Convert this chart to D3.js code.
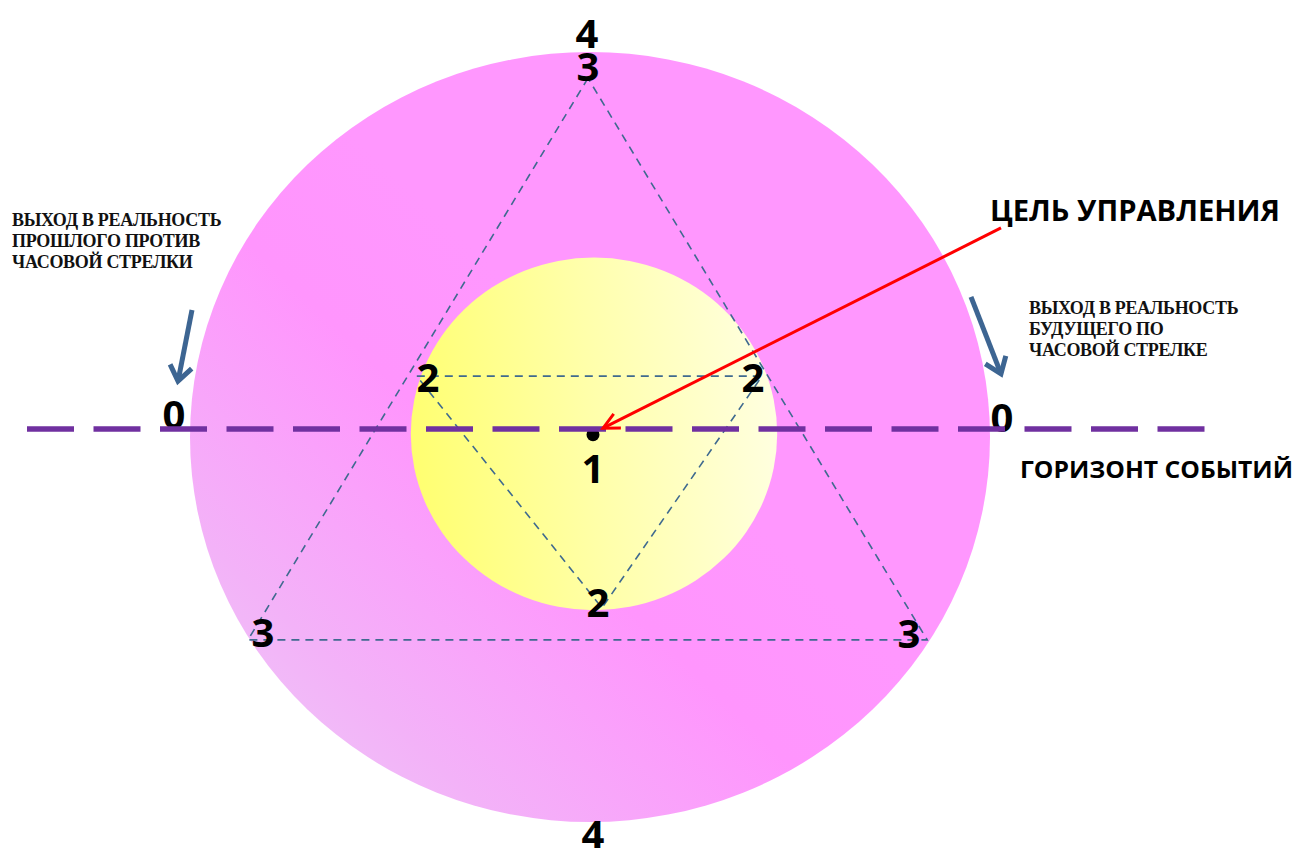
<!DOCTYPE html>
<html lang="ru">
<head>
<meta charset="UTF-8">
<title>Горизонт событий</title>
<style>
  html, body { margin: 0; padding: 0; background: #ffffff; }
  #canvas { width: 1297px; height: 848px; overflow: hidden; }
  .digit { font-family: "Open Sans", "Noto Sans", sans-serif; font-weight: 700; fill: #000; }
  .note { font-family: "Liberation Serif", "DejaVu Serif", serif; font-weight: 700; fill: #111; }
  .head { font-family: "Open Sans", "Noto Sans", sans-serif; font-weight: 700; fill: #000; }
</style>
<script src="https://cdnjs.cloudflare.com/ajax/libs/d3/7.8.5/d3.min.js"></script>
</head>
<body>
<div id="canvas"></div>
<script>
// diagram units: outer circle centre = (0,0), radius = 1
var outerCircle = {cx: 0, cy: 0, r: 1};
var innerCircle = {cx: 0.01, cy: 0.008, r: 0.458};
var bigTriangle = [[-0.005, 0.932], [-0.855, -0.527], [0.843, -0.527]];
var smallTriangle = [[-0.433, 0.158], [0.43, 0.158], [0.03, -0.444]];
var horizon = [[-1.4075, 0.021], [1.5375, 0.021]];
var centrePoint = [0.0075, 0.006];

var digitLabels = ["4", "3", "2", "2", "2", "1", "3", "3", "4", "0", "0"];
var digitX = [-0.0075, -0.005, -0.405, 0.4075, 0.02, 0.0075, -0.8175, 0.7975, 0.0075, -1.04, 1.03];
var digitY = [1.010, 0.925, 0.117, 0.117, -0.468, -0.119, -0.545, -0.548, -1.070, 0.021, 0.013];

var targetArrow = [[1.0275, 0.543], [0.0325, 0.023]];
var exitArrows = [
  [[-0.995, 0.330], [-1.03, 0.145]],
  [[0.9525, 0.364], [1.0275, 0.164]]
];

var pastNote = ["ВЫХОД В РЕАЛЬНОСТЬ", "ПРОШЛОГО ПРОТИВ", "ЧАСОВОЙ СТРЕЛКИ"];
var futureNote = ["ВЫХОД В РЕАЛЬНОСТЬ", "БУДУЩЕГО ПО", "ЧАСОВОЙ СТРЕЛКЕ"];
var pastNoteAt = [-1.445, 0.548];
var futureNoteAt = [1.0975, 0.319];
var targetTitle = "ЦЕЛЬ УПРАВЛЕНИЯ";
var targetTitleAt = [1.0, 0.561];
var horizonTitle = "ГОРИЗОНТ СОБЫТИЙ";
var horizonTitleAt = [1.075, -0.106];

var width = 1297, height = 848;

//scale
var x = d3.scaleLinear().domain([-1, 1]).range([190, 990]);
var y = d3.scaleLinear().domain([-1, 1]).range([822, 52]);
var rx = function(r) { return x(r) - x(0); };
var ry = function(r) { return y(0) - y(r); };

var svg = d3.select("#canvas")
            .append("svg")
            .attr("width", width)
            .attr("height", height);

var defs = svg.append("defs");

var pinkGrad = defs.append("linearGradient")
    .attr("id", "pinkGrad")
    .attr("x1", "0").attr("y1", "1")
    .attr("x2", "0.55").attr("y2", "0.45");
pinkGrad.append("stop").attr("offset", "0").attr("stop-color", "#ecd0f8");
pinkGrad.append("stop").attr("offset", "0.35").attr("stop-color", "#f3b2f8");
pinkGrad.append("stop").attr("offset", "0.75").attr("stop-color", "#ff95fd");
pinkGrad.append("stop").attr("offset", "1").attr("stop-color", "#ff97fe");

var yellowGrad = defs.append("linearGradient")
    .attr("id", "yellowGrad")
    .attr("x1", "0").attr("y1", "0.55")
    .attr("x2", "1").attr("y2", "0.45");
yellowGrad.append("stop").attr("offset", "0").attr("stop-color", "#ffff70");
yellowGrad.append("stop").attr("offset", "0.5").attr("stop-color", "#ffffaa");
yellowGrad.append("stop").attr("offset", "1").attr("stop-color", "#ffffe0");

defs.append("marker")
    .attr("id", "redHead")
    .attr("viewBox", "0 0 22 22")
    .attr("refX", 19).attr("refY", 11)
    .attr("markerWidth", 22).attr("markerHeight", 22)
    .attr("markerUnits", "userSpaceOnUse")
    .attr("orient", "auto")
    .append("path")
    .attr("d", "M3,3 L19,11 L3,19")
    .attr("fill", "none")
    .attr("stroke", "#ff0000")
    .attr("stroke-width", 3);

defs.append("marker")
    .attr("id", "blueHead")
    .attr("viewBox", "0 0 28 28")
    .attr("refX", 23).attr("refY", 14)
    .attr("markerWidth", 28).attr("markerHeight", 28)
    .attr("markerUnits", "userSpaceOnUse")
    .attr("orient", "auto")
    .append("path")
    .attr("d", "M8,3 L23,14 L8,25")
    .attr("fill", "none")
    .attr("stroke", "#3d6592")
    .attr("stroke-width", 5)
    .attr("stroke-linejoin", "miter");

var line = d3.line()
    .x(function(d) { return x(d[0]); })
    .y(function(d) { return y(d[1]); });

//circles
svg.append("ellipse")
    .attr("cx", x(outerCircle.cx)).attr("cy", y(outerCircle.cy))
    .attr("rx", rx(outerCircle.r)).attr("ry", ry(outerCircle.r))
    .attr("fill", "url(#pinkGrad)");

svg.append("ellipse")
    .attr("cx", x(innerCircle.cx)).attr("cy", y(innerCircle.cy))
    .attr("rx", rx(innerCircle.r)).attr("ry", ry(innerCircle.r))
    .attr("fill", "url(#yellowGrad)");

//triangles
svg.selectAll(".tri")
    .data([bigTriangle, smallTriangle])
    .enter().append("path")
    .attr("class", "tri")
    .attr("d", function(d) { return line(d) + "Z"; })
    .attr("fill", "none")
    .attr("stroke", "#3f6a8f")
    .attr("stroke-width", 1.6)
    .attr("stroke-dasharray", "8,6");

//centre point
svg.append("circle")
    .attr("cx", x(centrePoint[0])).attr("cy", y(centrePoint[1]))
    .attr("r", 6.5)
    .attr("fill", "#000");

//digits
svg.selectAll(".digit")
    .data(digitLabels)
    .enter().append("text")
    .attr("class", "digit")
    .attr("x", function(d, i) { return x(digitX[i]); })
    .attr("y", function(d, i) { return y(digitY[i]); })
    .attr("text-anchor", "middle")
    .attr("font-size", 40)
    .text(function(d) { return d; });

//event horizon
svg.append("path")
    .attr("d", line(horizon))
    .attr("stroke", "#7030a0")
    .attr("stroke-width", 5.5)
    .attr("stroke-dasharray", "47,19.5")
    .attr("fill", "none");

//arrows
svg.append("path")
    .attr("d", line(targetArrow))
    .attr("stroke", "#ff0000")
    .attr("stroke-width", 3)
    .attr("fill", "none")
    .attr("marker-end", "url(#redHead)");

svg.selectAll(".exit")
    .data(exitArrows)
    .enter().append("path")
    .attr("class", "exit")
    .attr("d", line)
    .attr("stroke", "#3d6592")
    .attr("stroke-width", 5)
    .attr("fill", "none")
    .attr("marker-end", "url(#blueHead)");

//texts
function note(lines, at) {
  svg.append("g").selectAll("text")
      .data(lines)
      .enter().append("text")
      .attr("class", "note")
      .attr("x", x(at[0]))
      .attr("y", function(d, i) { return y(at[1]) + i * 21; })
      .attr("font-size", 18)
      .attr("letter-spacing", -0.3)
      .text(function(d) { return d; });
}
note(pastNote, pastNoteAt);
note(futureNote, futureNoteAt);

svg.append("text")
    .attr("class", "head")
    .attr("x", x(targetTitleAt[0])).attr("y", y(targetTitleAt[1]))
    .attr("font-size", 29)
    .attr("textLength", 290)
    .attr("lengthAdjust", "spacingAndGlyphs")
    .text(targetTitle);

svg.append("text")
    .attr("class", "head")
    .attr("x", x(horizonTitleAt[0])).attr("y", y(horizonTitleAt[1]))
    .attr("font-size", 24)
    .attr("textLength", 273)
    .attr("lengthAdjust", "spacingAndGlyphs")
    .text(horizonTitle);
</script>
</body>
</html>
